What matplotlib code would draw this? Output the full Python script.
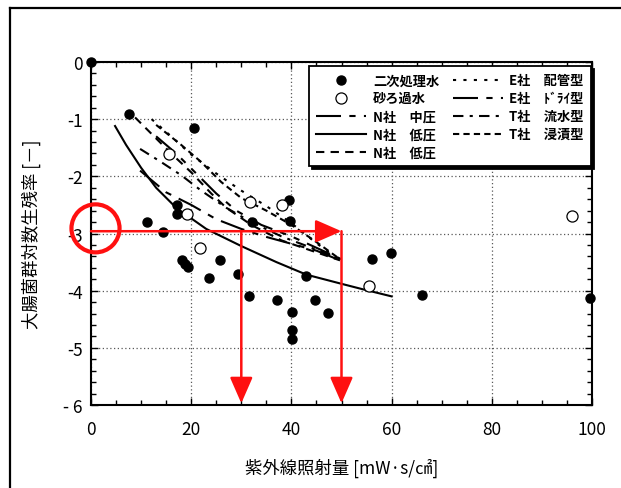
import numpy as np
import matplotlib
matplotlib.use("Agg")
import matplotlib.pyplot as plt
from matplotlib.lines import Line2D
from matplotlib.patches import Ellipse

plt.rcParams['font.family'] = ['Noto Sans CJK JP', 'DejaVu Sans']

# 二次処理水 (filled)
sec_x = [0, 7.6, 20.6, 11.1, 14.4, 17.1, 17.1, 32.1, 39.6, 39.7, 18.1, 18.8, 19.3,
         25.7, 23.6, 29.3, 31.6, 37.1, 40.2, 40.2, 40.2, 43.0, 44.8, 47.4,
         56.0, 59.9, 66.0, 99.6]
sec_y = [0, -0.91, -1.16, -2.80, -2.98, -2.51, -2.66, -2.80, -2.42, -2.78, -3.47, -3.53, -3.59,
         -3.47, -3.78, -3.71, -4.09, -4.16, -4.38, -4.69, -4.84, -3.75, -4.16, -4.39,
         -3.44, -3.34, -4.07, -4.12]
# 砂ろ過水 (open)
sand_x = [15.6, 19.2, 21.8, 31.7, 38.2, 55.5, 96.1]
sand_y = [-1.61, -2.66, -3.26, -2.45, -2.51, -3.92, -2.69]

# curves
n_mid_x = [9.8, 15, 20, 25, 30, 35, 40, 45, 49.7]
n_mid_y = [-1.9, -2.28, -2.5, -2.75, -2.92, -3.06, -3.18, -3.3, -3.47]
n_low_x = [4.8, 7, 10, 13, 17, 23, 30, 37, 43, 50, 54, 60]
n_low_y = [-1.12, -1.45, -1.85, -2.2, -2.55, -2.92, -3.22, -3.5, -3.72, -3.88, -3.97, -4.1]
n_low2_x = [8.8, 12, 16, 20, 24, 27, 32, 38, 44, 49.7]
n_low2_y = [-0.97, -1.25, -1.6, -1.93, -2.3, -2.55, -2.85, -3.12, -3.3, -3.47]
e_pipe_x = [12.1, 16, 20, 25, 30, 35, 40, 45, 49.7]
e_pipe_y = [-1.0, -1.3, -1.62, -1.95, -2.25, -2.52, -2.82, -3.17, -3.47]
e_dry_x = [13, 17, 21, 25, 29, 34, 40, 45, 50]
e_dry_y = [-1.3, -1.6, -1.95, -2.3, -2.6, -2.85, -3.05, -3.25, -3.45]
t_flow_x = [9.8, 14, 18, 22, 27, 32, 38, 44, 50]
t_flow_y = [-1.52, -1.75, -1.98, -2.25, -2.55, -2.8, -3.05, -3.25, -3.45]
t_dip_x = [13, 18, 22, 26, 30, 35, 40, 45, 49.7]
t_dip_y = [-1.1, -1.45, -1.75, -2.1, -2.38, -2.6, -2.85, -3.15, -3.45]

xticks = [0, 20, 40, 60, 80, 100]
yticks = [0, -1, -2, -3, -4, -5, -6]
ytick_labels = ['0', '-1', '-2', '-3', '-4', '-5', '- 6']

fig = plt.figure(figsize=(6.21, 4.89), dpi=100)
ax = fig.add_axes([91/621, 83/489, 501/621, 343/489])

lw = 1.5
ax.plot(sec_x, sec_y, 'o', color='k', ms=6.5, clip_on=False, label='二次処理水', zorder=4)
ax.plot(sand_x, sand_y, 'o', mfc='white', mec='k', mew=0.9, ms=8, label='砂ろ過水', zorder=4)
ax.plot(n_mid_x, n_mid_y, color='k', lw=lw, dashes=(12, 4, 3, 4), label='N社　中圧')
ax.plot(n_low_x, n_low_y, color='k', lw=lw, label='N社　低圧')
ax.plot(n_low2_x, n_low2_y, color='k', lw=lw, dashes=(4, 3), label='N社　低圧')
ax.plot(e_pipe_x, e_pipe_y, color='k', lw=lw, dashes=(1.5, 3.5), label='E社　配管型')
ax.plot(e_dry_x, e_dry_y, color='k', lw=lw, dashes=(12, 4, 3, 4, 3, 4), label='E社　ﾄﾞﾗｲ型')
ax.plot(t_flow_x, t_flow_y, color='k', lw=lw, dashes=(5, 3, 1.5, 3), label='T社　流水型')
ax.plot(t_dip_x, t_dip_y, color='k', lw=lw, dashes=(3, 2), label='T社　浸漬型')

ax.set_xlim(0, 100)
ax.set_ylim(-6, 0)
ax.set_xticks(xticks)
ax.set_yticks(yticks)
ax.set_yticklabels(ytick_labels)
ax.set_xticks(np.arange(0, 101, 5), minor=True)
ax.set_yticks(np.arange(-6, 0.01, 0.2), minor=True)
ax.tick_params(which='both', direction='in', top=True, right=True, labelsize=12.5, pad=6)
ax.tick_params(axis='x', which='major', pad=11)
ax.tick_params(which='major', length=5, width=1)
ax.tick_params(which='minor', length=3.5, width=1)
for s in ax.spines.values():
    s.set_linewidth(1.5)
ax.grid(True, which='major', color='0.35', lw=0.9, linestyle=(0, (1, 2)))

ax.set_xlabel('紫外線照射量 [mW·s/㎠]', fontsize=12.5, labelpad=14)
ax.set_ylabel('大腸菌群対数生残率 [－]', fontsize=12.5, labelpad=16)

leg = ax.legend(ncol=2, loc='upper right', bbox_to_anchor=(0.998, 0.988), borderaxespad=0,
                fontsize=9.5, frameon=True, fancybox=False, edgecolor='k', framealpha=1,
                handlelength=3.8, handletextpad=0.5, columnspacing=1.0,
                labelspacing=0.3, borderpad=0.55,
                shadow={'color': 'k', 'alpha': 1.0, 'ox': 2, 'oy': -2})
leg.get_frame().set_linewidth(1.3)
for t in leg.get_texts():
    t.set_fontweight('bold')

# red annotation
red = '#ff1010'
ax.add_patch(Ellipse((0.9, -2.91), 9.6, 0.84, fill=False, ec=red, lw=3, clip_on=False, zorder=6))
arrow = dict(arrowstyle='-|>,head_length=1.6,head_width=0.7', color=red, lw=1.8,
             shrinkA=0, shrinkB=0)
ax.annotate('', xy=(50, -2.96), xytext=(0, -2.96), arrowprops=arrow, zorder=6)
ax.annotate('', xy=(30, -5.97), xytext=(30, -2.96), arrowprops=arrow, zorder=6)
ax.annotate('', xy=(50, -5.97), xytext=(50, -2.96), arrowprops=arrow, zorder=6)

# page frame
fig.add_artist(Line2D([10/621, 10/621], [0, 1 - 9/489], color='k', lw=1.6))
fig.add_artist(Line2D([10/621, 1], [1 - 9/489, 1 - 9/489], color='k', lw=1.6))

fig.savefig('out.png', dpi=100)
